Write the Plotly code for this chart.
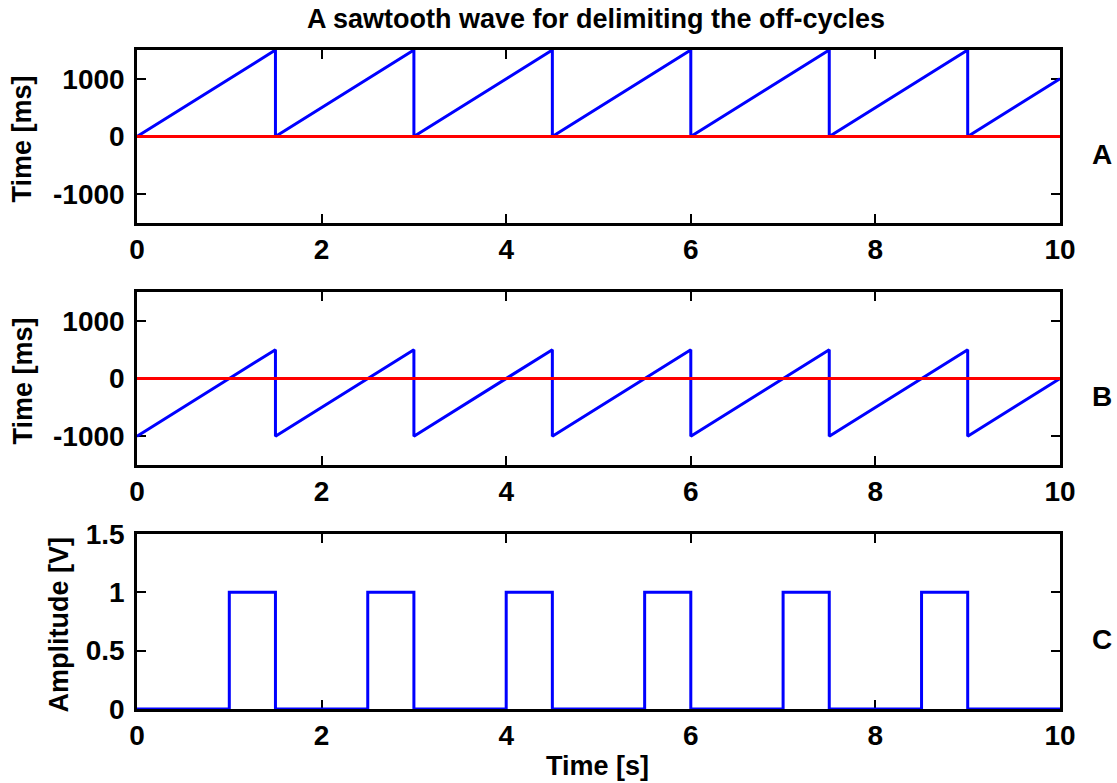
import plotly.graph_objects as go

W, H = 1117, 783

# ---- data ----
saw_t = [0, 1.5, 1.5, 3, 3, 4.5, 4.5, 6, 6, 7.5, 7.5, 9, 9, 10]
saw_a = [0, 1500, 0, 1500, 0, 1500, 0, 1500, 0, 1500, 0, 1500, 0, 1000]
saw_b = [-1000, 500, -1000, 500, -1000, 500, -1000, 500, -1000, 500, -1000, 500, -1000, 0]
ref_t = [0, 10]
ref_y = [0, 0]
pulse_t = [0, 1, 1, 1.5, 1.5, 2.5, 2.5, 3, 3, 4, 4, 4.5, 4.5, 5.5, 5.5, 6, 6,
           7, 7, 7.5, 7.5, 8.5, 8.5, 9, 9, 10]
pulse_y = [0, 0, 1, 1, 0, 0, 1, 1, 0, 0, 1, 1, 0, 0, 1, 1, 0,
           0, 1, 1, 0, 0, 1, 1, 0, 0]
x_ticks = [0, 2, 4, 6, 8, 10]
ms_ticks = [-1000, 0, 1000]
ms_ticktext = ["-1000", "0", "1000"]
amp_ticks = [0, 0.5, 1, 1.5]
amp_ticktext = ["0", "0.5", "1", "1.5"]
panel_letters = ["A", "B", "C"]
title_text = "A sawtooth wave for delimiting the off-cycles"
ylabels = ["Time [ms]", "Time [ms]", "Amplitude [V]"]
xlabel = "Time [s]"

FONT = "Liberation Sans, Arial, sans-serif"
BLUE = "#0000FF"
RED = "#FF0000"

def px(x):
    return x / W

def py(y):
    return 1 - y / H

# panel pixel boxes (top, bottom); left/right shared
L, R = 137, 1060
boxes = [(50, 223), (292, 465), (534, 709)]

fig = go.Figure()

fig.add_trace(go.Scatter(x=saw_t, y=saw_a, mode="lines", line=dict(color=BLUE, width=3),
                         xaxis="x", yaxis="y", showlegend=False))
fig.add_trace(go.Scatter(x=ref_t, y=ref_y, mode="lines", line=dict(color=RED, width=3),
                         xaxis="x", yaxis="y", showlegend=False))
fig.add_trace(go.Scatter(x=saw_t, y=saw_b, mode="lines", line=dict(color=BLUE, width=3),
                         xaxis="x2", yaxis="y2", showlegend=False))
fig.add_trace(go.Scatter(x=ref_t, y=ref_y, mode="lines", line=dict(color=RED, width=3),
                         xaxis="x2", yaxis="y2", showlegend=False))
fig.add_trace(go.Scatter(x=pulse_t, y=pulse_y, mode="lines", line=dict(color=BLUE, width=3),
                         xaxis="x3", yaxis="y3", showlegend=False))

tickfont = dict(family=FONT, size=28, color="black", weight="bold")
common_ax = dict(showline=True, linecolor="black", linewidth=2.5, mirror="ticks",
                 ticks="inside", ticklen=9, tickwidth=2, tickcolor="black",
                 showgrid=False, zeroline=False, tickfont=tickfont, layer="below traces",
                 automargin=False)

layout = dict(width=W, height=H, margin=dict(l=0, r=0, t=0, b=0, autoexpand=False),
              paper_bgcolor="white", plot_bgcolor="white", showlegend=False)

for i, (top, bot) in enumerate(boxes):
    sfx = "" if i == 0 else str(i + 1)
    ydom = [py(bot), py(top)]
    layout["xaxis" + sfx] = dict(common_ax, domain=[px(L), px(R)], range=[0, 10],
                                 tickvals=x_ticks, anchor="y" + sfx)
    if i < 2:
        layout["yaxis" + sfx] = dict(common_ax, domain=ydom, range=[-1500, 1500],
                                     tickvals=ms_ticks, ticktext=ms_ticktext,
                                     anchor="x" + sfx, ticklabelstandoff=4)
    else:
        layout["yaxis" + sfx] = dict(common_ax, domain=ydom, range=[0, 1.5],
                                     tickvals=amp_ticks, ticktext=amp_ticktext,
                                     anchor="x" + sfx, ticklabelstandoff=4)

fig.update_layout(**layout)

ann_font = dict(family=FONT, size=27, color="black", weight="bold")
annotations = []
annotations.append(dict(text=title_text, x=px(596), y=py(19), xref="paper", yref="paper",
                        xanchor="center", yanchor="middle", showarrow=False, font=ann_font))
annotations.append(dict(text=xlabel, x=px(597), y=py(766), xref="paper", yref="paper",
                        xanchor="center", yanchor="middle", showarrow=False, font=ann_font))
ylab_x = [22, 22, 58]
for i, (top, bot) in enumerate(boxes):
    cy = (top + bot) / 2
    annotations.append(dict(text=ylabels[i], x=px(ylab_x[i]), y=py(cy + 3),
                            xref="paper", yref="paper", xanchor="center", yanchor="middle",
                            textangle=-90, showarrow=False, font=ann_font))
    annotations.append(dict(text=panel_letters[i], x=px(1102), y=py(cy + 18),
                            xref="paper", yref="paper", xanchor="center", yanchor="middle",
                            showarrow=False, font=dict(family=FONT, size=28, color="black",
                                                       weight="bold")))
fig.update_layout(annotations=annotations)

fig.write_html("out.html")
